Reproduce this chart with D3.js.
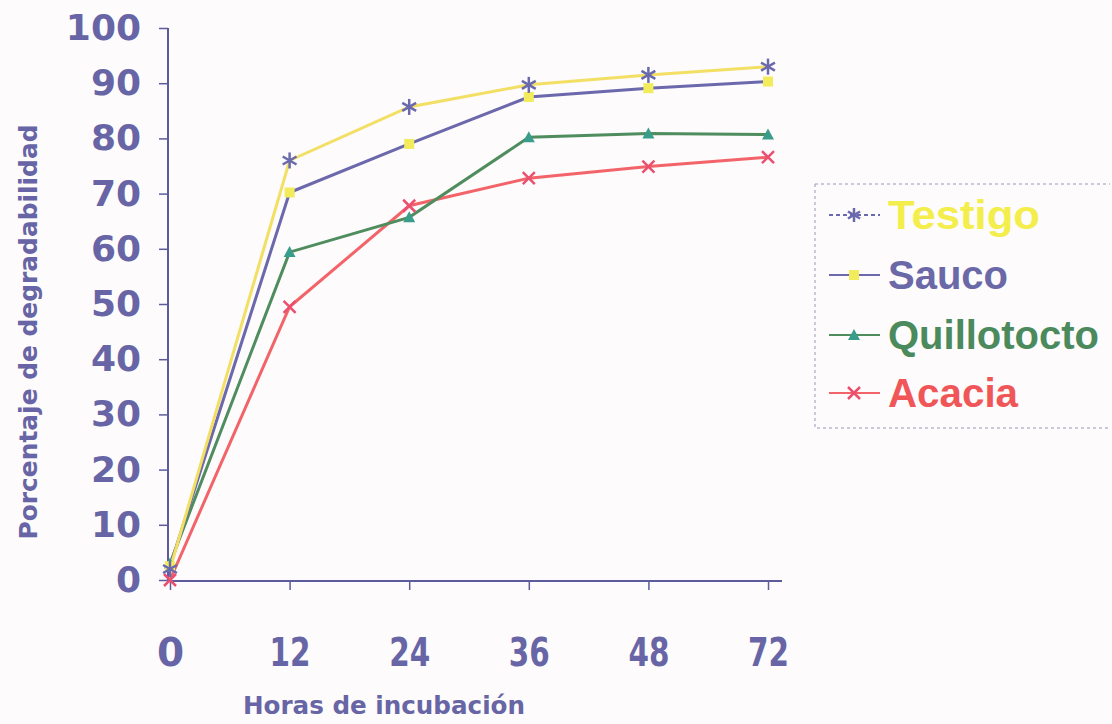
<!DOCTYPE html>
<html><head><meta charset="utf-8">
<script src="https://cdn.jsdelivr.net/npm/d3@7"></script>
<style>body{margin:0;background:#fdfbfb;}svg{display:block;font-family:"Liberation Sans",Arial,sans-serif;}</style>
</head><body><svg id="c" width="1112" height="724"></svg>
<script>
const hours = ["0","12","24","36","48","72"];
const yTicks = [0,10,20,30,40,50,60,70,80,90,100];
const testigo = [2, 76.0, 85.7, 89.7, 91.5, 93.0];
const sauco = [2.5, 70.2, 79.0, 87.5, 89.1, 90.3];
const quillotocto = [3, 59.4, 65.7, 80.2, 80.9, 80.7];
const acacia = [0, 49.5, 67.8, 72.8, 74.9, 76.6];
const seriesNames = ["Testigo","Sauco","Quillotocto","Acacia"];

const series = [
  {name:seriesNames[0], vals:testigo, line:"#f3df63", mark:"#6a69ad", text:"#f4ee4c", sym:"star", dash:"4,3"},
  {name:seriesNames[1], vals:sauco, line:"#6b68ac", mark:"#f2ec5c", text:"#6b68a8", sym:"circle", dash:null},
  {name:seriesNames[2], vals:quillotocto, line:"#4f8d5f", mark:"#3a9c8a", text:"#4b8a5c", sym:"tri", dash:null},
  {name:seriesNames[3], vals:acacia, line:"#f2646a", mark:"#ec4f6e", text:"#f05558", sym:"x", dash:null}
];

const svg = d3.select("#c");
const x = d3.scalePoint().domain(hours).range([170, 768]);
const y = d3.scaleLinear().domain([0,100]).range([580, 28]);
const axisCol = "#5d5b9c";
const txtCol = "#6765a5";
const heavy = "'DejaVu Sans', sans-serif";

// y axis
const ya = svg.append("g").attr("transform","translate(168,0)")
  .call(d3.axisLeft(y).tickValues(yTicks).tickSize(9).tickPadding(18));
ya.select(".domain").attr("stroke",axisCol).attr("stroke-width",2).attr("d","M0,28V582");
ya.selectAll(".tick line").attr("stroke",axisCol).attr("stroke-width",1.5);
ya.selectAll(".tick text").attr("fill",txtCol).attr("font-size",36).attr("font-weight","bold")
  .attr("font-family",heavy);

// x axis
const xa = svg.append("g").attr("transform","translate(0,581)")
  .call(d3.axisBottom(x).tickSize(9).tickPadding(48));
xa.select(".domain").attr("stroke",axisCol).attr("stroke-width",2).attr("d","M168,0H782");
xa.selectAll(".tick line").attr("stroke",axisCol).attr("stroke-width",1.5);
xa.selectAll(".tick text").attr("fill",txtCol).attr("font-size",39).attr("font-weight","bold")
  .attr("font-family",heavy).attr("textLength",41).attr("lengthAdjust","spacingAndGlyphs");
xa.selectAll(".tick text").filter(d=>d==="0").attr("textLength",null);

// axis titles
svg.append("text").attr("x",384).attr("y",714).attr("text-anchor","middle")
  .attr("fill",txtCol).attr("font-size",25).attr("font-weight","bold").attr("font-family",heavy)
  .attr("textLength",282).attr("lengthAdjust","spacingAndGlyphs").text("Horas de incubación");
svg.append("text").attr("transform","translate(37,332) rotate(-90)").attr("text-anchor","middle")
  .attr("fill",txtCol).attr("font-size",25).attr("font-weight","bold").attr("font-family",heavy)
  .attr("textLength",415).attr("lengthAdjust","spacingAndGlyphs").text("Porcentaje de degradabilidad");

function marker(g, s, cx, cy, r){
  if(s.sym==="star"){
    for(let a=0;a<3;a++){
      const ang = a*Math.PI/3 + Math.PI/2;
      g.append("line").attr("x1",cx-r*Math.cos(ang)).attr("y1",cy-r*Math.sin(ang))
        .attr("x2",cx+r*Math.cos(ang)).attr("y2",cy+r*Math.sin(ang))
        .attr("stroke",s.mark).attr("stroke-width",2.5);
    }
  } else if(s.sym==="circle"){
    g.append("rect").attr("x",cx-5).attr("y",cy-5).attr("width",10).attr("height",10).attr("fill",s.mark);
  } else if(s.sym==="tri"){
    g.append("path").attr("d",`M${cx},${cy-6}L${cx+6},${cy+5}L${cx-6},${cy+5}Z`).attr("fill",s.mark);
  } else {
    g.append("path").attr("d",`M${cx-6},${cy-6}L${cx+6},${cy+6}M${cx+6},${cy-6}L${cx-6},${cy+6}`)
      .attr("stroke",s.mark).attr("stroke-width",2.5);
  }
}

const line = d3.line().x((d,i)=>x(hours[i])).y(d=>y(d));
[...series].reverse().forEach(s=>{
  svg.append("path").datum(s.vals).attr("d",line).attr("fill","none")
    .attr("stroke",s.line).attr("stroke-width",3);
});
[...series].reverse().forEach(s=>{
  const g = svg.append("g");
  s.vals.forEach((v,i)=>marker(g,s,x(hours[i]),y(v),8));
});

// legend
const lg = svg.append("g");
lg.append("path").attr("d","M815,184H1110M815,184V428H1110").attr("fill","none")
  .attr("stroke","#9a98b8").attr("stroke-width",1).attr("stroke-dasharray","3,3");
const ly = [215, 275, 335, 393];
series.forEach((s,i)=>{
  const yy = ly[i];
  lg.append("line").attr("x1",829).attr("x2",880).attr("y1",yy).attr("y2",yy)
    .attr("stroke", i===0 ? "#6a69ad" : s.line).attr("stroke-width",2)
    .attr("stroke-dasharray", s.dash);
  marker(lg, s, 854, yy, 7);
  lg.append("text").attr("x",888).attr("y",yy+14).attr("fill",s.text)
    .attr("font-size",40).attr("font-weight","bold").text(s.name)
    .attr("textLength", [152,120,211,130][i]).attr("lengthAdjust","spacingAndGlyphs");
});
</script></body></html>
